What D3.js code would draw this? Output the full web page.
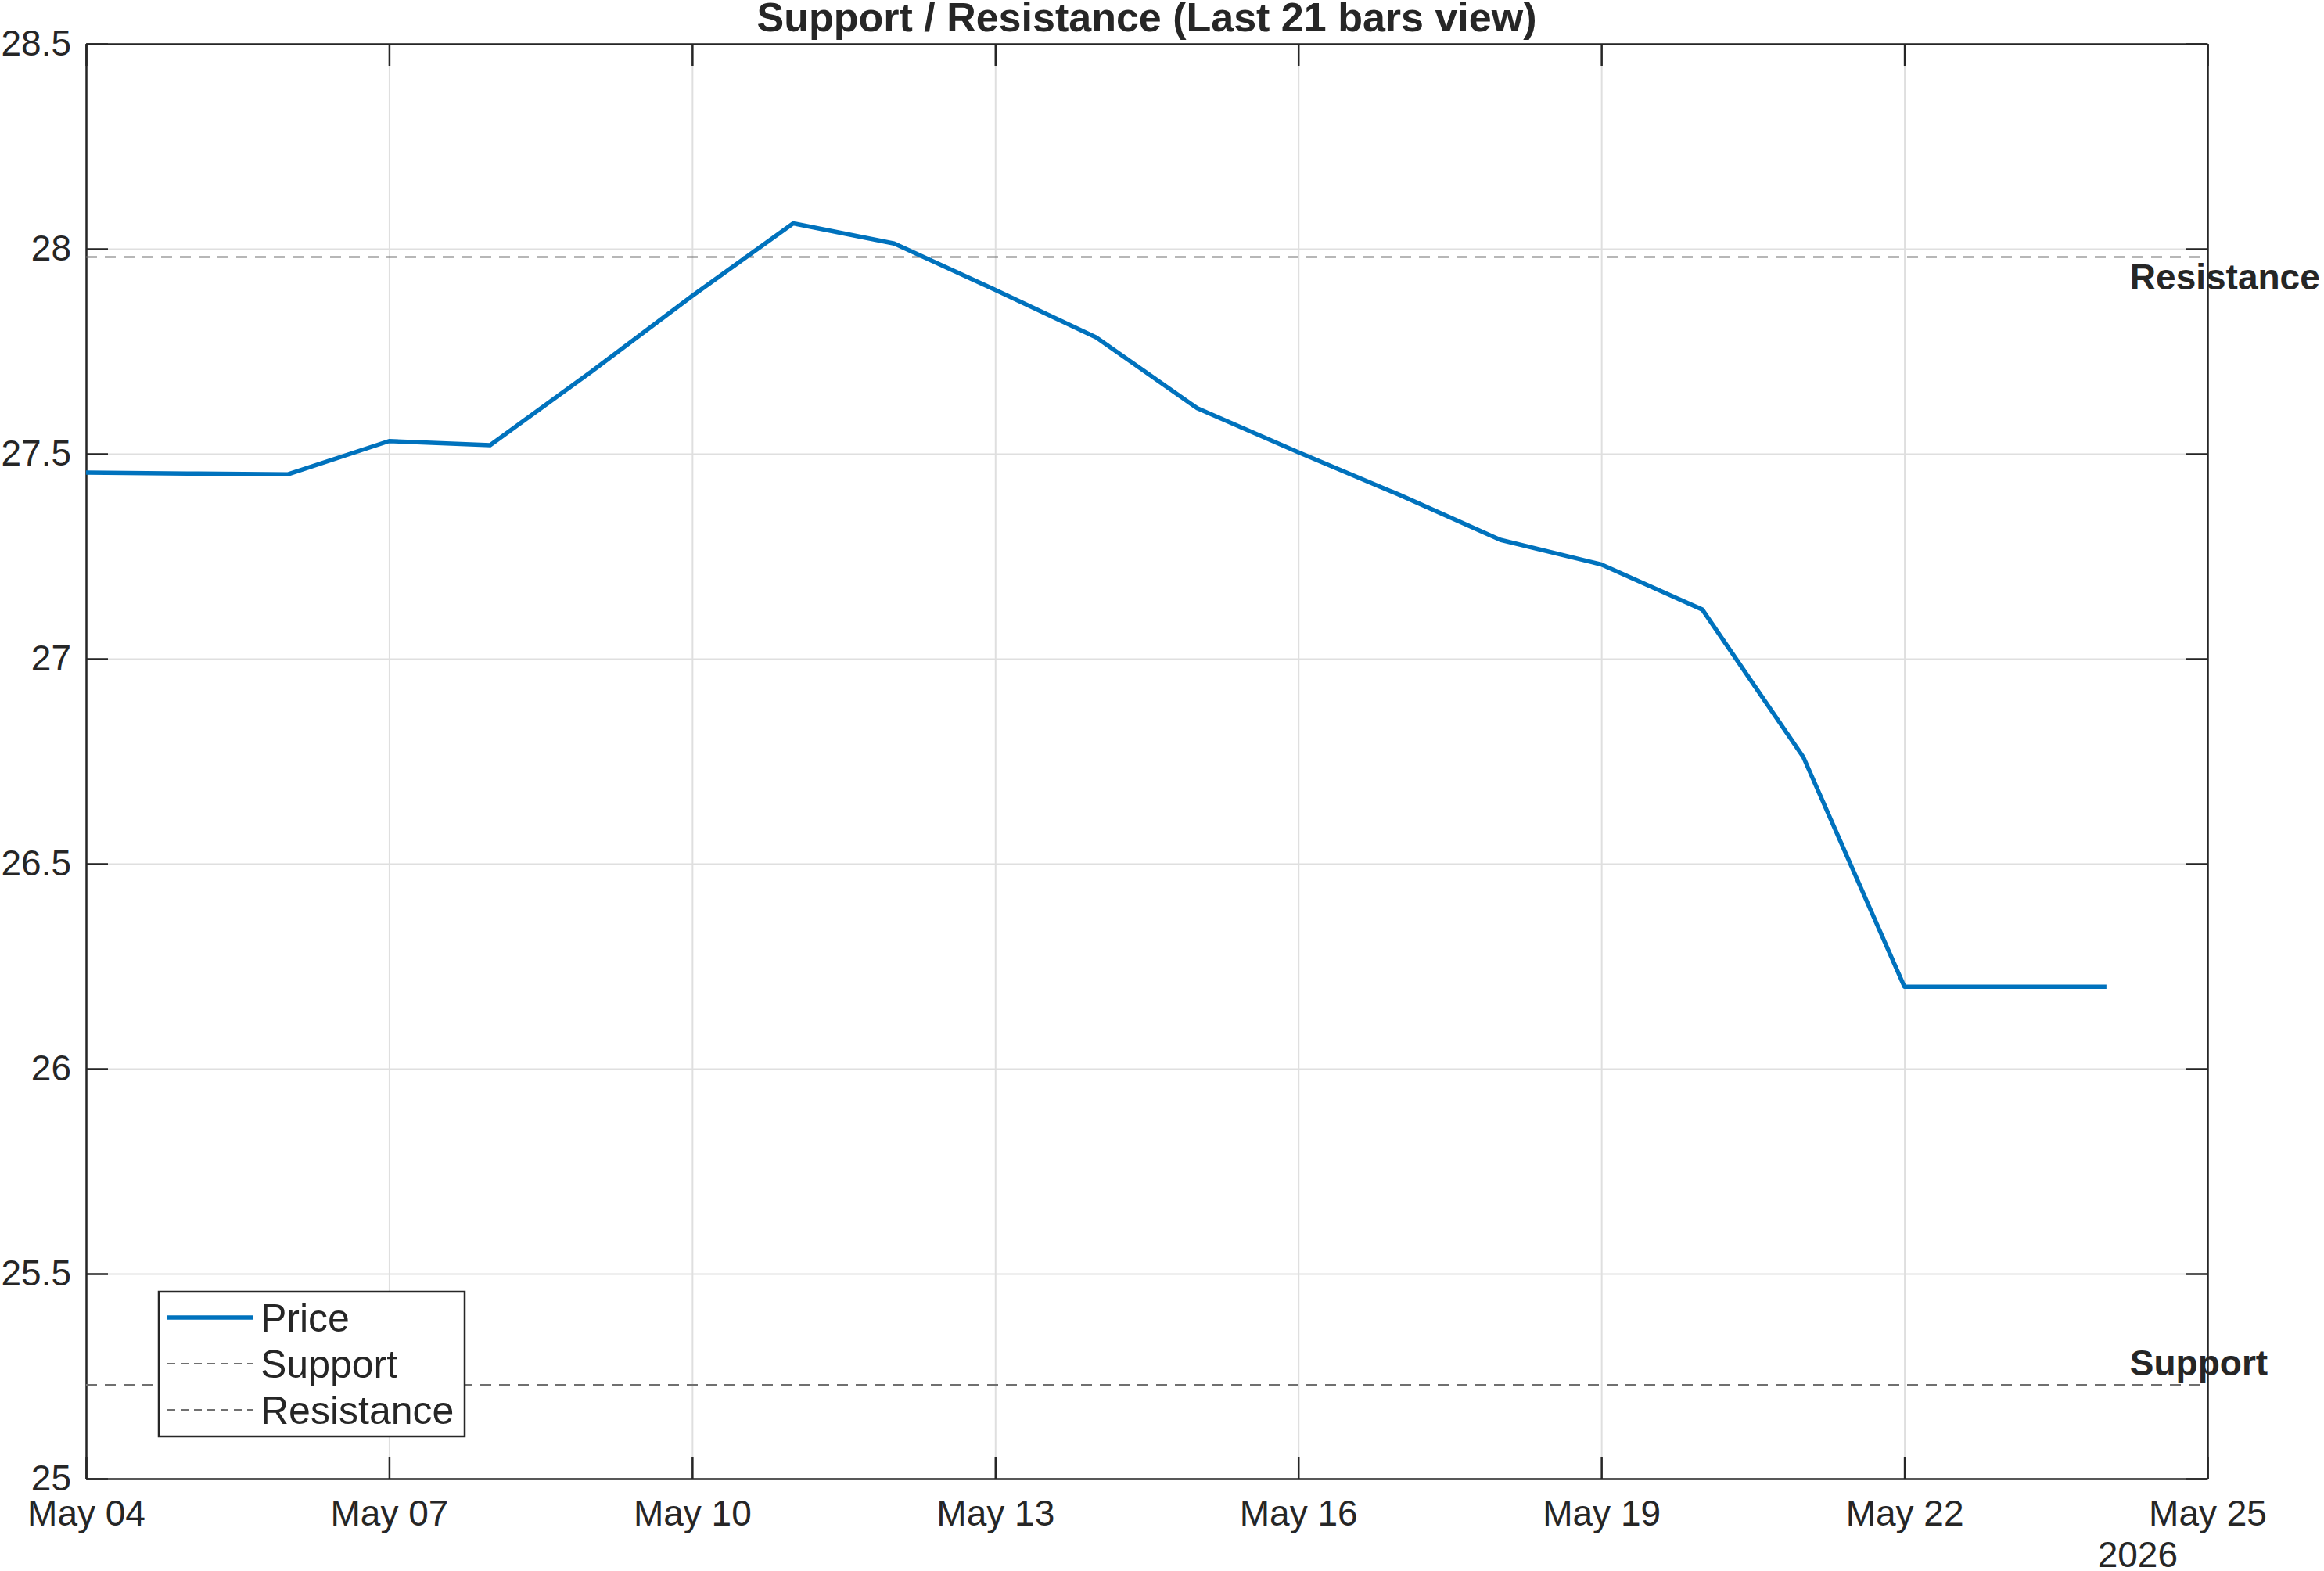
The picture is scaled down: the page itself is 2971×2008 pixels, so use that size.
<!DOCTYPE html>
<html>
<head>
<meta charset="utf-8">
<script src="https://cdn.jsdelivr.net/npm/d3@7"></script>
<style>
  body { margin: 0; background: #fff; }
  svg text { font-family: "Liberation Sans", Arial, Helvetica, sans-serif; fill: #262626; }
</style>
</head>
<body>
<div id="chart"></div>
<script>
// ---- data ----
const dates = [
  '2026-05-04', '2026-05-05', '2026-05-06', '2026-05-07', '2026-05-08', '2026-05-09', '2026-05-10',
  '2026-05-11', '2026-05-12', '2026-05-13', '2026-05-14', '2026-05-15', '2026-05-16', '2026-05-17',
  '2026-05-18', '2026-05-19', '2026-05-20', '2026-05-21', '2026-05-22', '2026-05-23', '2026-05-24'
];
const prices = [
  27.454, 27.452, 27.450, 27.531, 27.521, 27.70, 27.885,
  28.062, 28.013, 27.900, 27.784, 27.611, 27.504, 27.40,
  27.290, 27.230, 27.120, 26.760, 26.200, 26.200, 26.200
];
const supportLevel = 25.229;
const resistanceLevel = 27.980;

const xDomain = ['2026-05-04', '2026-05-25'];
const yDomain = [25, 28.5];
const xTickDates = ['2026-05-04', '2026-05-07', '2026-05-10', '2026-05-13', '2026-05-16', '2026-05-19', '2026-05-22', '2026-05-25'];
const yTickValues = [25, 25.5, 26, 26.5, 27, 27.5, 28, 28.5];
const yearLabel = '2026';
const chartTitle = 'Support / Resistance (Last 21 bars view)';
const legendLabels = ['Price', 'Support', 'Resistance'];

class SupportResistanceChart {

  constructor(_config, _data) {
    this.config = {
      parentElement: _config.parentElement,
      containerWidth: 2971,
      containerHeight: 2008,
      margin: {top: 56, right: 149, bottom: 118, left: 110},
      tickLength: 28,
      priceColor: '#0072BD',
      levelColor: '#707070',
      axisColor: '#262626',
      gridColor: '#dfdfdf'
    };
    this.data = _data;
    this.initVis();
  }

  initVis() {
    let vis = this;
    const parseDate = d3.utcParse('%Y-%m-%d');
    vis.parseDate = parseDate;

    vis.width = vis.config.containerWidth - vis.config.margin.left - vis.config.margin.right;
    vis.height = vis.config.containerHeight - vis.config.margin.top - vis.config.margin.bottom;

    vis.xScale = d3.scaleUtc()
        .domain(xDomain.map(parseDate))
        .range([0, vis.width]);

    vis.yScale = d3.scaleLinear()
        .domain(yDomain)
        .range([vis.height, 0]);

    vis.svg = d3.select(vis.config.parentElement).append('svg')
        .attr('width', vis.config.containerWidth)
        .attr('height', vis.config.containerHeight)
        .style('background', '#fff');

    vis.chart = vis.svg.append('g')
        .attr('transform', `translate(${vis.config.margin.left},${vis.config.margin.top})`);

    vis.updateVis();
  }

  updateVis() {
    let vis = this;
    vis.points = vis.data.dates.map((d, i) => ({date: vis.parseDate(d), value: vis.data.prices[i]}));
    vis.xTicks = xTickDates.map(vis.parseDate);
    vis.renderVis();
  }

  renderVis() {
    let vis = this;
    const tl = vis.config.tickLength;

    // grid lines
    vis.chart.append('g')
        .attr('class', 'grid x-grid')
        .attr('transform', `translate(0,${vis.height})`)
        .call(d3.axisBottom(vis.xScale).tickValues(vis.xTicks).tickSize(-vis.height).tickFormat(''))
        .call(g => g.select('.domain').remove())
        .call(g => g.selectAll('line').attr('stroke', vis.config.gridColor).attr('stroke-width', 2));

    vis.chart.append('g')
        .attr('class', 'grid y-grid')
        .call(d3.axisLeft(vis.yScale).tickValues(yTickValues).tickSize(-vis.width).tickFormat(''))
        .call(g => g.select('.domain').remove())
        .call(g => g.selectAll('line').attr('stroke', vis.config.gridColor).attr('stroke-width', 2));

    // axes (box with inward ticks)
    const styleAxis = g => {
      g.select('.domain').attr('stroke', vis.config.axisColor).attr('stroke-width', 2.5);
      g.selectAll('.tick line').attr('stroke', vis.config.axisColor).attr('stroke-width', 2.5);
      g.selectAll('.tick text')
          .attr('fill', vis.config.axisColor)
          .style('font-size', '46px');
    };

    vis.chart.append('g')
        .attr('class', 'axis x-axis')
        .attr('transform', `translate(0,${vis.height})`)
        .call(d3.axisBottom(vis.xScale).tickValues(vis.xTicks)
            .tickSizeInner(-tl).tickSizeOuter(0).tickPadding(27)
            .tickFormat(d3.utcFormat('%b %d')))
        .call(styleAxis);

    vis.chart.append('g')
        .attr('class', 'axis x-axis-top')
        .call(d3.axisTop(vis.xScale).tickValues(vis.xTicks)
            .tickSizeInner(-tl).tickSizeOuter(0).tickFormat(''))
        .call(styleAxis);

    vis.chart.append('g')
        .attr('class', 'axis y-axis')
        .call(d3.axisLeft(vis.yScale).tickValues(yTickValues)
            .tickSizeInner(-tl).tickSizeOuter(0).tickPadding(19)
            .tickFormat(d3.format('')))
        .call(styleAxis);

    vis.chart.append('g')
        .attr('class', 'axis y-axis-right')
        .attr('transform', `translate(${vis.width},0)`)
        .call(d3.axisRight(vis.yScale).tickValues(yTickValues)
            .tickSizeInner(-tl).tickSizeOuter(0).tickFormat(''))
        .call(styleAxis);

    // year under the last date tick
    vis.chart.append('text')
        .attr('x', vis.width - 38)
        .attr('y', vis.height + 113)
        .attr('text-anchor', 'end')
        .style('font-size', '46px')
        .text(yearLabel);

    // support / resistance levels
    const levels = [
      {name: 'Resistance', value: vis.data.resistance, dy: 42},
      {name: 'Support', value: vis.data.support, dy: -12}
    ];

    vis.chart.selectAll('.level-line')
        .data(levels)
      .join('line')
        .attr('class', 'level-line')
        .attr('x1', 0)
        .attr('x2', vis.width)
        .attr('y1', d => vis.yScale(d.value))
        .attr('y2', d => vis.yScale(d.value))
        .attr('stroke', vis.config.levelColor)
        .attr('stroke-width', 2.2)
        .attr('stroke-dasharray', '14 10');

    const lastDate = vis.points[vis.points.length - 1].date;
    vis.chart.selectAll('.level-label')
        .data(levels)
      .join('text')
        .attr('class', 'level-label')
        .attr('x', vis.xScale(lastDate) + 30)
        .attr('y', d => vis.yScale(d.value) + d.dy)
        .style('font-size', '46px')
        .style('font-weight', 'bold')
        .text(d => d.name);

    // price line
    const line = d3.line()
        .x(d => vis.xScale(d.date))
        .y(d => vis.yScale(d.value));

    vis.chart.append('path')
        .datum(vis.points)
        .attr('fill', 'none')
        .attr('stroke', vis.config.priceColor)
        .attr('stroke-width', 5.5)
        .attr('stroke-linejoin', 'round')
        .attr('d', line);

    // title
    vis.chart.append('text')
        .attr('x', vis.width / 2)
        .attr('y', -16)
        .attr('text-anchor', 'middle')
        .style('font-size', '52px')
        .style('font-weight', 'bold')
        .text(chartTitle);

    vis.renderLegend();
  }

  renderLegend() {
    let vis = this;
    const lw = 391, lh = 185, rowH = 59;

    const legend = vis.chart.append('g')
        .attr('class', 'legend')
        .attr('transform', `translate(93,${vis.height - 54 - lh})`);

    legend.append('rect')
        .attr('width', lw)
        .attr('height', lh)
        .attr('fill', '#fff')
        .attr('stroke', vis.config.axisColor)
        .attr('stroke-width', 2.5);

    const items = legendLabels.map((label, i) => ({
      label: label,
      color: i === 0 ? vis.config.priceColor : vis.config.levelColor,
      width: i === 0 ? 5.5 : 2.2,
      dash: i === 0 ? null : '10 7'
    }));

    const rows = legend.selectAll('.legend-row')
        .data(items)
      .join('g')
        .attr('class', 'legend-row')
        .attr('transform', (d, i) => `translate(0,${33 + i * rowH})`);

    rows.append('line')
        .attr('x1', 11)
        .attr('x2', 120)
        .attr('stroke', d => d.color)
        .attr('stroke-width', d => d.width)
        .attr('stroke-dasharray', d => d.dash);

    rows.append('text')
        .attr('x', 130)
        .attr('y', 18)
        .style('font-size', '50px')
        .text(d => d.label);
  }
}

const chart = new SupportResistanceChart({parentElement: '#chart'}, {
  dates: dates,
  prices: prices,
  support: supportLevel,
  resistance: resistanceLevel
});
</script>
</body>
</html>
